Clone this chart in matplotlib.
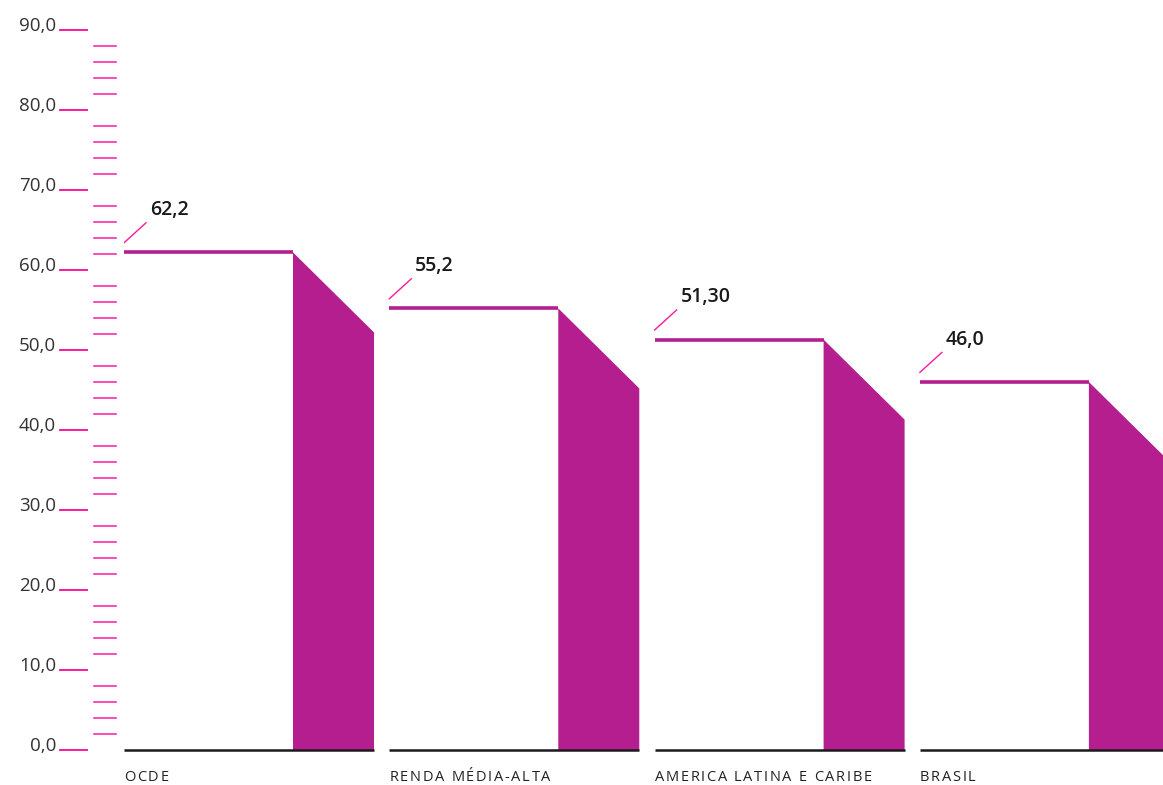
import matplotlib.pyplot as plt
import matplotlib.transforms as mtransforms
from matplotlib.textpath import TextPath
from matplotlib.font_manager import FontProperties
import numpy as np

# Dados do gráfico
categorias = ['OCDE', 'RENDA MÉDIA-ALTA', 'AMERICA LATINA E CARIBE', 'BRASIL']
valores = [62.2, 55.2, 51.3, 46.0]
rotulos = ['62,2', '55,2', '51,30', '46,0']
ticks_maiores = np.arange(0, 91, 10)
ticks_menores = [t for t in np.arange(0, 91, 2) if t % 10 != 0]

cor_barra = '#b41e8e'
cor_tick = '#fc1a9e'

W, H = 1163, 785
fig = plt.figure(figsize=(W / 100, H / 100), dpi=100)
plt.rcParams['font.family'] = ['Open Sans', 'DejaVu Sans']

# eixo ocupa de x=124 até a borda direita, y de 750 (0) a 30 (90)
esq = 124 / W
ax = fig.add_axes([esq, 35 / H, 1 - esq, 720 / H])
passo = 265.3  # px entre grupos
px = 1 / passo
ax.set_xlim(0, (W - 124) / passo)
ax.set_ylim(0, 90)
ax.axis('off')

larg_branca = 169 * px
larg_sombra = 81 * px
queda = 10


def avanco(s, prop):
    # avanço de s em pontos, medido entre duas barras sentinela
    if not s:
        return 0.0
    w = TextPath((0, 0), '|' + s + '|', prop=prop).get_extents().width
    w0 = TextPath((0, 0), '||', prop=prop).get_extents().width
    return w - w0


def texto_espacado(x, y, s, tamanho, espaco_px, cor):
    # texto com espaçamento entre letras, letra a letra
    prop = FontProperties(family='Open Sans', size=tamanho)
    for k, ch in enumerate(s):
        desloc_px = avanco(s[:k], prop) * 100 / 72 + k * espaco_px
        tr = ax.transData + mtransforms.Affine2D().translate(desloc_px, 0)
        ax.text(x, y, ch, fontproperties=prop, color=cor, ha='left',
                va='center', transform=tr, clip_on=False)


for i, (cat, v, rot) in enumerate(zip(categorias, valores, rotulos)):
    x0 = i
    x1 = x0 + larg_branca
    x2 = x1 + larg_sombra
    # parte sombreada
    ax.fill([x1, x1, x2, x2], [0, v, v - queda, 0], color=cor_barra,
            lw=0, zorder=2)
    # linha do topo
    ax.plot([x0, x1], [v, v], color=cor_barra, lw=2.6,
            solid_capstyle='butt', zorder=3)
    # linha de base
    ax.plot([x0, x2], [0, 0], color='#1a1a1a', lw=1.8,
            solid_capstyle='butt', zorder=4, clip_on=False)
    # rótulo do valor
    ax.plot([x0, x0 + 22 * px], [v + 1.2, v + 3.7], color=cor_tick, lw=1.0,
            zorder=3)
    ax.text(x0 + 26 * px, v + 5.3, rot, fontsize=14, fontweight='semibold',
            color='#1a1a1a', ha='left', va='center')
    # categoria
    texto_espacado(x0, -3.4, cat, 10.5, 1.7, '#222222')

# escala do eixo y desenhada à mão
trans = mtransforms.blended_transform_factory(fig.transFigure, ax.transData)
for t in ticks_maiores:
    ax.plot([60 / W, 87 / W], [t, t], color=cor_tick, lw=1.4,
            transform=trans, clip_on=False)
    ax.text(56 / W, t - 0.1, f'{t:.1f}'.replace('.', ','), transform=trans,
            fontsize=13.5, color='#333333', ha='right', va='baseline')
for t in ticks_menores:
    ax.plot([94 / W, 116 / W], [t, t], color=cor_tick, lw=1.1,
            transform=trans, clip_on=False)

fig.savefig('out.png', dpi=100)
